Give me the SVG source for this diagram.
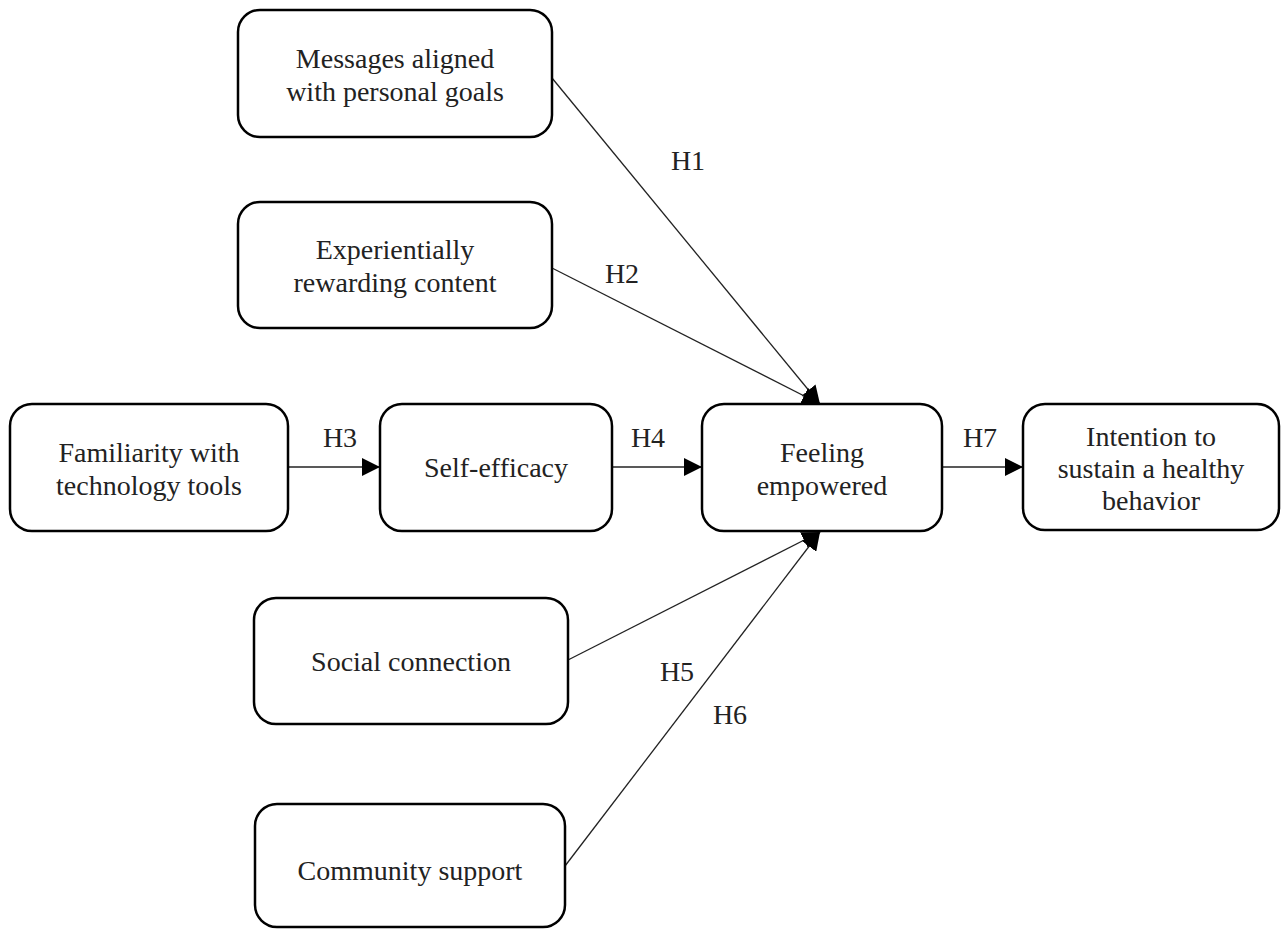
<svg xmlns="http://www.w3.org/2000/svg" width="1281" height="929" viewBox="0 0 1281 929">
<style>
.box{fill:#fff;stroke:#000;stroke-width:2.5}
.t{font-family:"Liberation Serif","Times New Roman",serif;font-size:28px;fill:#222;text-anchor:middle}
.c{stroke:#222;stroke-width:1.3;fill:none;marker-end:url(#ah)}
</style>
<defs>
<marker id="ah" viewBox="0 0 10 10" refX="10" refY="5" markerWidth="18" markerHeight="18" markerUnits="userSpaceOnUse" orient="auto"><path d="M0,0 L10,5 L0,10 z" fill="#000"/></marker>
</defs>
<rect width="1281" height="929" fill="#fff"/>
<g id="connectors">
<line class="c" x1="552" y1="78" x2="820" y2="404"/>
<line class="c" x1="552" y1="268" x2="820" y2="404"/>
<line class="c" x1="288" y1="467" x2="380" y2="467"/>
<line class="c" x1="612" y1="467" x2="702" y2="467"/>
<line class="c" x1="942" y1="467" x2="1023" y2="467"/>
<line class="c" x1="568" y1="660" x2="820" y2="532"/>
<line class="c" x1="565" y1="866" x2="820" y2="532"/>
<text class="t" x="688" y="170">H1</text>
<text class="t" x="622" y="283">H2</text>
<text class="t" x="340" y="447">H3</text>
<text class="t" x="648" y="447">H4</text>
<text class="t" x="980" y="447">H7</text>
<text class="t" x="677" y="681">H5</text>
<text class="t" x="730" y="724">H6</text>
</g>
<g id="n1"><rect class="box" x="238" y="10" width="314" height="127" rx="22"/>
<text class="t" x="395" y="68">Messages aligned</text><text class="t" x="395" y="101">with personal goals</text></g>
<g id="n2"><rect class="box" x="238" y="202" width="314" height="126" rx="22"/>
<text class="t" x="395" y="259">Experientially</text><text class="t" x="395" y="292">rewarding content</text></g>
<g id="n3"><rect class="box" x="10" y="404" width="278" height="127" rx="22"/>
<text class="t" x="149" y="462">Familiarity with</text><text class="t" x="149" y="495">technology tools</text></g>
<g id="n4"><rect class="box" x="380" y="404" width="232" height="127" rx="22"/>
<text class="t" x="496" y="477">Self-efficacy</text></g>
<g id="n5"><rect class="box" x="702" y="404" width="240" height="127" rx="22"/>
<text class="t" x="822" y="462">Feeling</text><text class="t" x="822" y="495">empowered</text></g>
<g id="n6"><rect class="box" x="1023" y="404" width="256" height="126" rx="22"/>
<text class="t" x="1151" y="446">Intention to</text><text class="t" x="1151" y="478">sustain a healthy</text><text class="t" x="1151" y="510">behavior</text></g>
<g id="n7"><rect class="box" x="254" y="598" width="314" height="126" rx="22"/>
<text class="t" x="411" y="671">Social connection</text></g>
<g id="n8"><rect class="box" x="255" y="804" width="310" height="123" rx="22"/>
<text class="t" x="410" y="880">Community support</text></g>
</svg>
